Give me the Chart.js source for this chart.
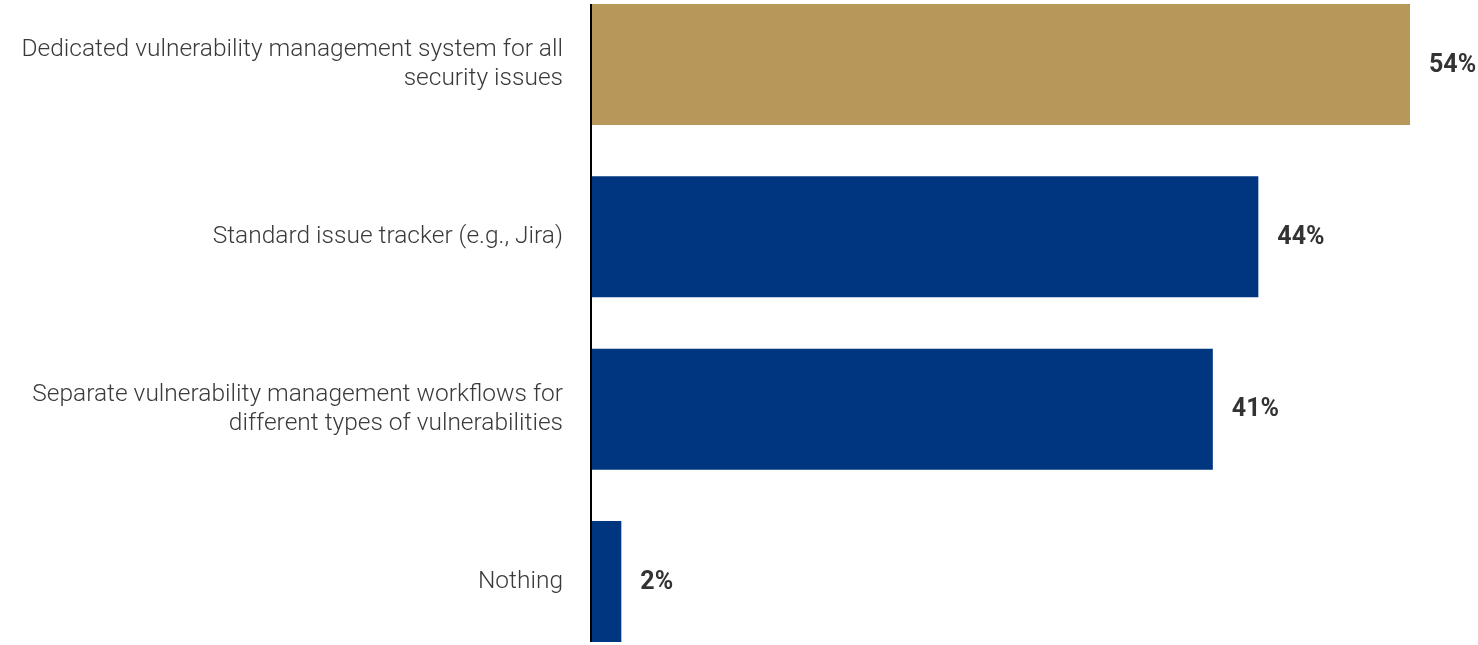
<!DOCTYPE html>
<html lang="en">
<head>
  <meta charset="UTF-8">
  <title>Vulnerability management</title>
  <script src="https://cdn.jsdelivr.net/npm/chart.js"></script>
  <style>
    html, body { margin: 0; padding: 0; background: #fff; }
    #wrap { width: 1478px; height: 645px; position: relative; }
  </style>
</head>
<body>
  <div id="wrap"><canvas id="chart"></canvas></div>
  <script>
    const categories = [
      ['Dedicated vulnerability management system for all', 'security issues'],
      'Standard issue tracker (e.g., Jira)',
      ['Separate vulnerability management workflows for', 'different types of vulnerabilities'],
      'Nothing'
    ];
    const values = [54, 44, 41, 2];
    const barColors = ['#b8985a', '#003580', '#003580', '#003580'];

    // value labels at the end of each bar
    const valueLabels = {
      id: 'valueLabels',
      afterDatasetsDraw(chart) {
        const ctx = chart.ctx;
        const meta = chart.getDatasetMeta(0);
        ctx.save();
        ctx.font = '700 25px Roboto';
        ctx.fillStyle = '#333';
        ctx.textAlign = 'left';
        ctx.textBaseline = 'middle';
        meta.data.forEach((bar, i) => {
          ctx.fillText(values[i] + '%', bar.x + 19, bar.y + 1);
        });
        ctx.restore();
      }
    };

    // vertical axis line over the full height
    const axisLine = {
      id: 'axisLine',
      afterDatasetsDraw(chart) {
        const ctx = chart.ctx;
        const x = chart.chartArea.left;
        ctx.save();
        ctx.strokeStyle = '#000';
        ctx.lineWidth = 2;
        ctx.beginPath();
        ctx.moveTo(x, 4);
        ctx.lineTo(x, 642);
        ctx.stroke();
        ctx.restore();
      }
    };

    new Chart(document.getElementById('chart'), {
      type: 'bar',
      data: {
        labels: categories,
        datasets: [{
          data: values,
          backgroundColor: barColors,
          borderWidth: 0,
          categoryPercentage: 1,
          barPercentage: 0.702,
          clip: false
        }]
      },
      options: {
        indexAxis: 'y',
        responsive: true,
        maintainAspectRatio: false,
        animation: false,
        layout: { padding: { top: 64.5, bottom: 63.5, right: 68, left: 0 } },
        plugins: {
          legend: { display: false },
          tooltip: { enabled: false }
        },
        scales: {
          x: {
            display: false,
            min: 0,
            max: 54
          },
          y: {
            offset: false,
            grid: { display: false, drawTicks: false },
            border: { display: false },
            ticks: {
              padding: 28,
              color: '#3a3a3a',
              font: { family: 'Roboto', weight: 300, size: 24.5, lineHeight: 1.18 }
            },
            afterFit(scale) { scale.width = 591; }
          }
        }
      },
      plugins: [valueLabels, axisLine]
    });
  </script>
</body>
</html>
